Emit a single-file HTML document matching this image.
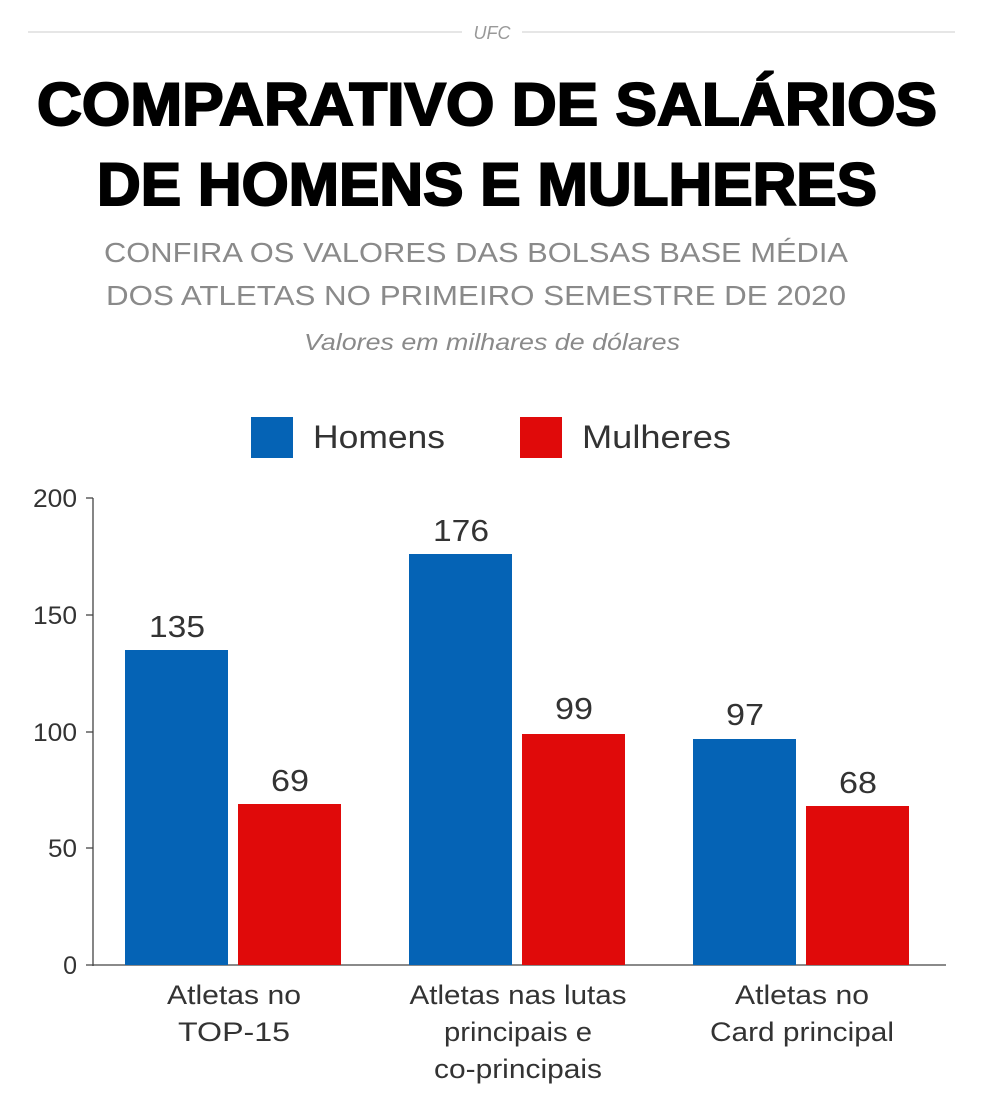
<!DOCTYPE html>
<html><head><meta charset="utf-8"><style>
html,body{margin:0;padding:0;background:#fff;}
svg{display:block;}
</style></head><body>
<svg width="984" height="1105" viewBox="0 0 984 1105" xmlns="http://www.w3.org/2000/svg" font-family="'Liberation Sans', sans-serif">
<rect width="984" height="1105" fill="#fff"/>
<line x1="28" y1="32" x2="462" y2="32" stroke="#ccc" stroke-width="1"/>
<line x1="522" y1="32" x2="955" y2="32" stroke="#ccc" stroke-width="1"/>
<text x="492" y="39" text-anchor="middle" font-size="18" font-style="italic" fill="#999">UFC</text>
<text x="487" y="125" text-anchor="middle" font-size="60" font-weight="bold" fill="#000" textLength="900" lengthAdjust="spacingAndGlyphs" stroke="#000" stroke-width="2">COMPARATIVO DE SALÁRIOS</text>
<text x="487" y="205" text-anchor="middle" font-size="60" font-weight="bold" fill="#000" textLength="780" lengthAdjust="spacingAndGlyphs" stroke="#000" stroke-width="2">DE HOMENS E MULHERES</text>
<text x="476" y="262" text-anchor="middle" font-size="28" fill="#8a8a8a" textLength="744" lengthAdjust="spacingAndGlyphs">CONFIRA OS VALORES DAS BOLSAS BASE MÉDIA</text>
<text x="476" y="305" text-anchor="middle" font-size="28" fill="#8a8a8a" textLength="740" lengthAdjust="spacingAndGlyphs">DOS ATLETAS NO PRIMEIRO SEMESTRE DE 2020</text>
<text x="492" y="350" text-anchor="middle" font-size="23" font-style="italic" fill="#8a8a8a" textLength="376" lengthAdjust="spacingAndGlyphs">Valores em milhares de dólares</text>
<rect x="251" y="417" width="42" height="41" fill="#0563b5"/>
<text x="313" y="448" font-size="32" fill="#333" textLength="132" lengthAdjust="spacingAndGlyphs">Homens</text>
<rect x="520" y="417" width="42" height="41" fill="#e00a0a"/>
<text x="582" y="448" font-size="32" fill="#333" textLength="149" lengthAdjust="spacingAndGlyphs">Mulheres</text>
<g stroke="#444" stroke-width="1.3">
<line x1="93" y1="498" x2="93" y2="966"/>
<line x1="86" y1="965" x2="946" y2="965"/>
<line x1="86" y1="498" x2="93" y2="498"/>
<line x1="86" y1="615" x2="93" y2="615"/>
<line x1="86" y1="732" x2="93" y2="732"/>
<line x1="86" y1="848" x2="93" y2="848"/>
</g>
<g font-size="25" fill="#333" text-anchor="end">
<text x="77" y="507" textLength="44" lengthAdjust="spacingAndGlyphs">200</text>
<text x="77" y="624" textLength="44" lengthAdjust="spacingAndGlyphs">150</text>
<text x="77" y="741" textLength="44" lengthAdjust="spacingAndGlyphs">100</text>
<text x="77" y="857" textLength="29" lengthAdjust="spacingAndGlyphs">50</text>
<text x="77" y="974">0</text>
</g>
<rect x="125" y="650" width="103" height="315" fill="#0563b5"/>
<rect x="238" y="804" width="103" height="161" fill="#e00a0a"/>
<rect x="409" y="554" width="103" height="411" fill="#0563b5"/>
<rect x="522" y="734" width="103" height="231" fill="#e00a0a"/>
<rect x="693" y="739" width="103" height="226" fill="#0563b5"/>
<rect x="806" y="806" width="103" height="159" fill="#e00a0a"/>
<g font-size="31" fill="#333" text-anchor="middle">
<text x="177" y="637" textLength="56" lengthAdjust="spacingAndGlyphs">135</text>
<text x="290" y="791" textLength="38" lengthAdjust="spacingAndGlyphs">69</text>
<text x="461" y="541" textLength="56" lengthAdjust="spacingAndGlyphs">176</text>
<text x="574" y="719" textLength="38" lengthAdjust="spacingAndGlyphs">99</text>
<text x="745" y="725" textLength="38" lengthAdjust="spacingAndGlyphs">97</text>
<text x="858" y="793" textLength="38" lengthAdjust="spacingAndGlyphs">68</text>
</g>
<g font-size="27" fill="#333" text-anchor="middle">
<text x="234" y="1004" textLength="134" lengthAdjust="spacingAndGlyphs">Atletas no</text>
<text x="234" y="1041" textLength="112" lengthAdjust="spacingAndGlyphs">TOP-15</text>
<text x="518" y="1004" textLength="217" lengthAdjust="spacingAndGlyphs">Atletas nas lutas</text>
<text x="518" y="1041" textLength="148" lengthAdjust="spacingAndGlyphs">principais e</text>
<text x="518" y="1078" textLength="168" lengthAdjust="spacingAndGlyphs">co-principais</text>
<text x="802" y="1004" textLength="134" lengthAdjust="spacingAndGlyphs">Atletas no</text>
<text x="802" y="1041" textLength="184" lengthAdjust="spacingAndGlyphs">Card principal</text>
</g>
</svg>
</body></html>
